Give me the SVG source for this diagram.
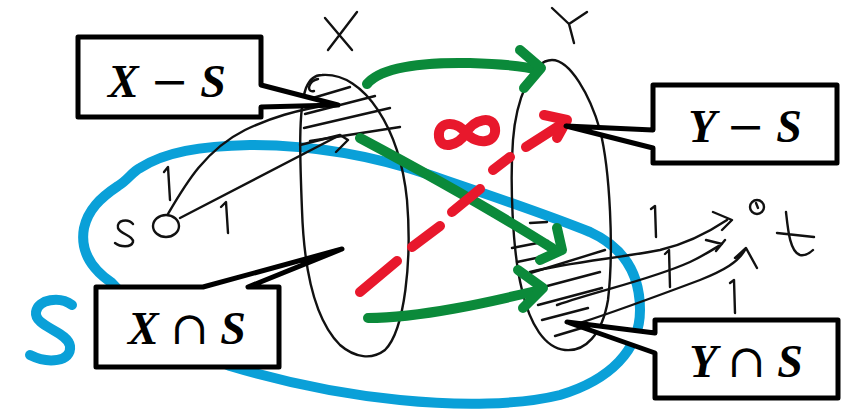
<svg xmlns="http://www.w3.org/2000/svg" width="848" height="411" viewBox="0 0 848 411">
  <style>
    .ink { fill: none; stroke: #111; stroke-width: 2.4; stroke-linecap: round; stroke-linejoin: round; }
    .set-s { fill: none; stroke: #0aa0d8; stroke-width: 10; stroke-linecap: round; stroke-linejoin: round; }
    .flow { fill: none; stroke: #0b8a3a; stroke-width: 10; stroke-linecap: round; stroke-linejoin: round; }
    .cut { fill: none; stroke: #e8182c; stroke-width: 10; stroke-linecap: round; stroke-linejoin: round; }
    .callout path { fill: #fff; stroke: #000; stroke-width: 5; stroke-linejoin: round; }
    .callout text { font-family: "Liberation Serif", "DejaVu Serif", serif; font-size: 46px; font-style: italic; font-weight: bold; text-anchor: middle; fill: #000; }
    .callout .op { font-family: "DejaVu Serif", "Liberation Serif", serif; font-style: normal; font-weight: normal; }
  </style>

  <!-- set S (blue loop) and its label -->
  <g id="set-S">
    <path class="set-s" d="M112,283 C90,268 80,250 84,228 C88,210 100,198 118,186 C128,180 132,172 140,168 C165,152 200,146 250,145 C320,145 380,158 430,175 C480,192 540,212 590,232 C625,248 640,275 640,310 C640,350 610,380 560,395 C520,405 460,406 400,400 C330,393 270,378 230,366 C190,350 140,315 112,283 Z"/>
    <path class="set-s" stroke-width="13" d="M72,305 C60,296 38,299 36,312 C34,327 68,331 70,346 C72,362 48,364 30,355"/>
  </g>

  <!-- set X -->
  <g id="set-X">
    <path class="ink" d="M322,75 C365,72 400,130 407,200 C412,260 405,330 385,350 C372,360 355,358 340,345 C315,320 304,270 302,210 C300,160 298,110 306,88 C310,78 316,75 322,75 Z"/>
    <path class="ink" d="M318,79 C308,81 306,93 314,91"/>
    <path class="ink" d="M325,18 L352,50 M357,12 L328,50"/>
    <!-- hatching of X - S -->
    <path class="ink" d="M306,100 L350,87 M305,114 L375,96 M304,128 L390,108 M310,141 L400,127"/>
  </g>

  <!-- set Y -->
  <g id="set-Y">
    <path class="ink" d="M552,60 C570,60 590,95 600,130 C610,170 614,250 608,300 C602,335 585,352 565,350 C545,348 530,325 522,290 C512,250 510,180 513,140 C516,100 532,60 552,60 Z"/>
    <path class="ink" d="M552,8 L569,24 L587,12 M569,24 L574,43"/>
    <!-- hatching of Y ∩ S -->
    <path class="ink" d="M512,248 L548,241 M530,223 L547,222 M517,262 L560,253 M524,275 L605,250 M532,290 L600,272 M538,305 L602,288 M542,320 L588,308 M555,336 L585,327"/>
  </g>

  <!-- source s -->
  <g id="node-s">
    <ellipse class="ink" cx="166" cy="226" rx="13" ry="11"/>
    <path class="ink" d="M133,224 C128,218 116,220 118,228 C120,234 134,236 133,242 C131,248 120,247 115,243"/>
  </g>

  <!-- sink t -->
  <g id="node-t">
    <ellipse class="ink" cx="757" cy="207" rx="7" ry="7"/>
    <path class="ink" d="M756,203 L758,208"/>
    <path class="ink" d="M786,212 C788,230 790,252 800,255 C806,256 810,253 813,250 M777,233 L814,237"/>
  </g>

  <!-- connectors -->
  <g id="connectors">
    <!-- unit edges out of s -->
    <path class="ink" d="M168,214 C185,185 205,150 245,130 C270,118 295,110 335,104"/>
    <path class="ink" d="M180,218 L340,135 L348,140 L336,152 M300,145 L340,135"/>
    <path class="ink" d="M164,172 L168,167 L170,200"/>
    <path class="ink" d="M221,207 L226,202 L228,233"/>

    <!-- unit edges into t -->
    <path class="ink" d="M530,272 C570,262 620,258 660,250 C690,243 712,230 727,220 M713,212 L732,220 L722,230"/>
    <path class="ink" d="M557,305 C600,290 650,280 690,262 C705,255 715,248 722,244 M706,240 L722,244 M716,251 L725,240"/>
    <path class="ink" d="M580,323 C620,310 660,295 700,280 C725,270 738,262 745,250 M735,258 L746,248 L757,268"/>
    <path class="ink" d="M651,209 L655,206 L656,237"/>
    <path class="ink" d="M665,254 L669,250 L670,287"/>
    <path class="ink" d="M730,283 L734,280 L735,313"/>

    <!-- flow from X to Y -->
    <path class="flow" d="M367,84 C380,68 420,62 470,63 C500,64 525,66 538,70"/>
    <path class="flow" d="M520,50 L541,68 L524,88"/>
    <path class="flow" d="M360,138 C420,170 500,215 552,248"/>
    <path class="flow" d="M557,228 L562,250 L540,260"/>
    <path class="flow" d="M368,318 C420,318 490,302 540,290"/>
    <path class="flow" d="M518,270 L543,288 L523,308"/>

    <!-- infinite-capacity back edge -->
    <path class="cut" d="M360,292 L397,261 M412,247 L440,226 M452,212 L480,189 M493,170 L510,157 M526,147 L562,124"/>
    <path class="cut" d="M544,115 L567,120 L557,138"/>
    <path class="cut" stroke-width="9" d="M466,133 C455,119 437,122 439,137 C441,150 458,146 466,133 C474,119 493,115 495,128 C497,143 478,146 466,133 Z"/>
  </g>

  <!-- callouts -->
  <g id="label-X-minus-S" class="callout">
    <path d="M78,37 H261 V85 L338,105 L261,107 V117 H78 Z"/>
    <text x="167" y="97">X <tspan class="op">−</tspan> S</text>
  </g>
  <g id="label-Y-minus-S" class="callout">
    <path d="M653,85 H837 V163 H653 V148 L566,126 L653,130 Z"/>
    <text x="745" y="142">Y <tspan class="op">−</tspan> S</text>
  </g>
  <g id="label-X-cap-S" class="callout">
    <path d="M96,287 H203 L342,249 L248,287 H279 V367 H96 Z"/>
    <text x="187" y="344">X <tspan class="op">∩</tspan> S</text>
  </g>
  <g id="label-Y-cap-S" class="callout">
    <path d="M655,320 H838 V398 H655 V353 L567,322 L655,333 Z"/>
    <text x="746" y="377">Y <tspan class="op">∩</tspan> S</text>
  </g>
</svg>
